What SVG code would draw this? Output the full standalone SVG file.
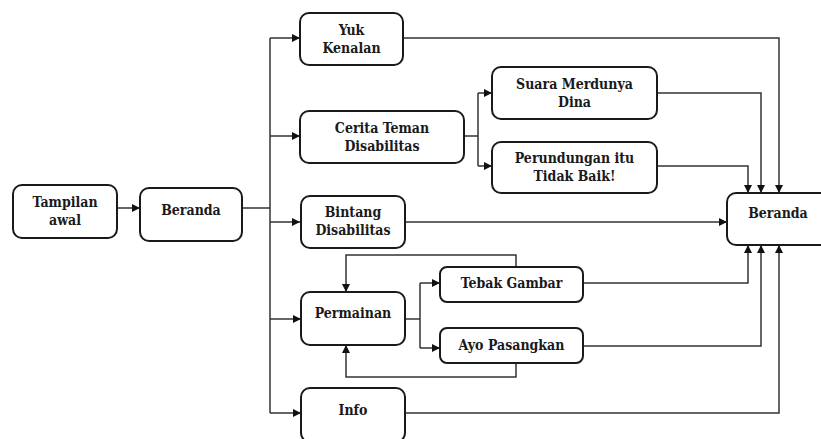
<svg xmlns="http://www.w3.org/2000/svg" width="821" height="439" viewBox="0 0 821 439">
<defs>
<marker id="ah" markerWidth="9" markerHeight="8" refX="8" refY="4" orient="auto" markerUnits="userSpaceOnUse">
<path d="M0,0 L8,4 L0,8 z" fill="#111"/>
</marker>
<style>
.box{fill:#fff;stroke:#1a1a1a;stroke-width:2}
.t{font-family:"DejaVu Serif Condensed","DejaVu Serif","Liberation Serif",serif;font-stretch:condensed;font-size:14px;font-weight:bold;fill:#1a1a1a;text-anchor:middle}
.c{fill:none;stroke:#333;stroke-width:1.5}
.ca{fill:none;stroke:#333;stroke-width:1.5;marker-end:url(#ah)}
</style>
</defs>
<rect width="821" height="439" fill="#fff"/>
<g id="connectors">
<path class="ca" d="M117,208 H140"/>
<path class="c" d="M242,208 H270"/>
<path class="c" d="M270,38 V413"/>
<path class="ca" d="M270,38 H300"/>
<path class="ca" d="M270,136 H300"/>
<path class="ca" d="M270,222 H300"/>
<path class="ca" d="M270,319 H301"/>
<path class="ca" d="M270,413 H301"/>
<path class="c" d="M464,136 H478"/>
<path class="c" d="M478,93 V166"/>
<path class="ca" d="M478,93 H492"/>
<path class="ca" d="M478,166 H492"/>
<path class="c" d="M405,319 H420"/>
<path class="c" d="M420,283 V348"/>
<path class="ca" d="M420,283 H440"/>
<path class="ca" d="M420,348 H440"/>
<path class="ca" d="M516,267 V255 H346 V292"/>
<path class="ca" d="M516,363 V377 H346 V345"/>
<path class="ca" d="M403,38 H779 V193"/>
<path class="ca" d="M657,93 H761 V193"/>
<path class="ca" d="M657,166 H748 V193"/>
<path class="ca" d="M405,222 H727"/>
<path class="ca" d="M583,283 H748 V245"/>
<path class="ca" d="M583,346 H761 V245"/>
<path class="ca" d="M405,413 H779 V245"/>
</g>
<g id="tampilan-awal"><rect class="box" x="13" y="185" width="104" height="53" rx="9"/><text class="t" x="65" y="207">Tampilan</text><text class="t" x="65" y="225">awal</text></g>
<g id="beranda-1"><rect class="box" x="140" y="188" width="102" height="53" rx="9"/><text class="t" x="191" y="215">Beranda</text></g>
<g id="yuk-kenalan"><rect class="box" x="300" y="13" width="103" height="52" rx="9"/><text class="t" x="351.5" y="35">Yuk</text><text class="t" x="351.5" y="53">Kenalan</text></g>
<g id="cerita"><rect class="box" x="300" y="111" width="164" height="52" rx="9"/><text class="t" x="382" y="133">Cerita Teman</text><text class="t" x="382" y="151">Disabilitas</text></g>
<g id="suara"><rect class="box" x="492" y="67" width="165" height="52" rx="9"/><text class="t" x="574.5" y="89">Suara Merdunya</text><text class="t" x="574.5" y="107">Dina</text></g>
<g id="perundungan"><rect class="box" x="492" y="142" width="165" height="51" rx="9"/><text class="t" x="574.5" y="163">Perundungan itu</text><text class="t" x="574.5" y="181">Tidak Baik!</text></g>
<g id="bintang"><rect class="box" x="301" y="196" width="104" height="52" rx="9"/><text class="t" x="353" y="217">Bintang</text><text class="t" x="353" y="235">Disabilitas</text></g>
<g id="permainan"><rect class="box" x="301" y="292" width="104" height="53" rx="9"/><text class="t" x="353" y="318">Permainan</text></g>
<g id="tebak"><rect class="box" x="440" y="267" width="143" height="35" rx="7"/><text class="t" x="511.5" y="288">Tebak Gambar</text></g>
<g id="ayo"><rect class="box" x="440" y="328" width="143" height="35" rx="7"/><text class="t" x="511.5" y="350">Ayo Pasangkan</text></g>
<g id="info"><rect class="box" x="301" y="388" width="104" height="54" rx="9"/><text class="t" x="353" y="415">Info</text></g>
<g id="beranda-2"><rect class="box" x="727" y="193" width="104" height="52" rx="9"/><text class="t" x="778" y="218">Beranda</text></g>
</svg>
